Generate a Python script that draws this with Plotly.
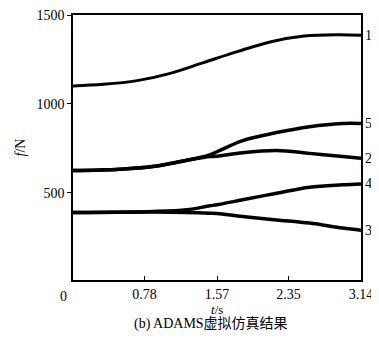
import plotly.graph_objects as go

# curve 1
t1 = [0, 0.33, 0.70, 1.06, 1.42, 1.79, 2.16, 2.52, 2.89, 3.14]
f1 = [1101, 1110, 1131, 1172, 1232, 1294, 1350, 1382, 1389, 1386]

# curves 2 and 5
t25 = [0, 0.51, 0.87, 1.24, 1.49, 1.57, 1.85, 2.22, 2.58, 2.94, 3.14]
f5 = [625, 633, 648, 683, 713, 731, 794, 839, 872, 890, 890]
f2 = [625, 633, 648, 683, 704, 706, 726, 738, 722, 704, 695]

# curves 3 and 4
t34 = [0, 0.87, 1.24, 1.49, 1.57, 1.85, 2.22, 2.58, 2.94, 3.14]
f4 = [389, 395, 405, 427, 433, 461, 498, 532, 545, 550]
f3 = [389, 392, 390, 386, 384, 367, 348, 330, 302, 290]

xticks = [0.78, 1.57, 2.35, 3.14]
xticklabels = ["0.78", "1.57", "2.35", "3.14"]
yticks = [500, 1000, 1500]
labels = ["1", "5", "2", "4", "3"]

FONT = "Liberation Serif"

fig = go.Figure()
series = [(t1, f1, 3), (t25, f5, 3.5), (t25, f2, 3.5), (t34, f4, 3.5), (t34, f3, 3.5)]
for tx, fy, w in series:
    fig.add_trace(go.Scatter(x=tx, y=fy, mode="lines", line=dict(color="black", width=w, shape="spline"),
                             showlegend=False, hoverinfo="skip"))

ends = [f1[-1], f5[-1], f2[-1], f4[-1], f3[-1]]
for lab, yv in zip(labels, ends):
    fig.add_annotation(x=3.14, y=yv, text=lab, showarrow=False, xanchor="left", yanchor="middle", xshift=2,
                       font=dict(family=FONT, size=14, color="black"))

fig.add_annotation(x=0, y=0, xref="x", yref="paper", text="0", showarrow=False,
                   xanchor="center", yanchor="middle",
                   xshift=-10, yshift=-16, font=dict(family=FONT, size=14, color="black"))
fig.add_annotation(x=0.5, y=0, xref="paper", yref="paper", text="<i>t</i>/s", showarrow=False,
                   xanchor="center", yanchor="middle",
                   yshift=-29, font=dict(family=FONT, size=13, color="black"))
fig.add_annotation(x=0.5, y=0, xref="paper", yref="paper", text="(b) ADAMS虚拟仿真结果", showarrow=False,
                   xanchor="center", yanchor="middle",
                   yshift=-44, xshift=-6, font=dict(family="Liberation Serif, Noto Sans CJK SC", size=14, color="black"))

fig.update_layout(
    width=371, height=337,
    margin=dict(l=65, r=18, t=7, b=65, autoexpand=False),
    plot_bgcolor="white", paper_bgcolor="white",
    font=dict(family=FONT, size=14, color="black"),
    xaxis=dict(range=[0, 3.14], tickvals=xticks, ticktext=xticklabels, ticks="inside", ticklen=4,
               tickcolor="black", tickwidth=1, ticklabeloverflow="allow",
               showline=True, linecolor="black", linewidth=1.5, mirror=True, showgrid=False, zeroline=False,
               automargin=False, tickfont=dict(family=FONT, size=14)),
    yaxis=dict(range=[10, 1500], tickvals=yticks, ticks="outside", ticklen=4,
               tickcolor="black", tickwidth=1, ticklabeloverflow="allow",
               showline=True, linecolor="black", linewidth=1.5, mirror=True, showgrid=False, zeroline=False,
               automargin=False,
               title=dict(text="<i>f</i>/N", standoff=8, font=dict(family=FONT, size=14)),
               tickfont=dict(family=FONT, size=14)),
)
fig.write_html("out.html")
